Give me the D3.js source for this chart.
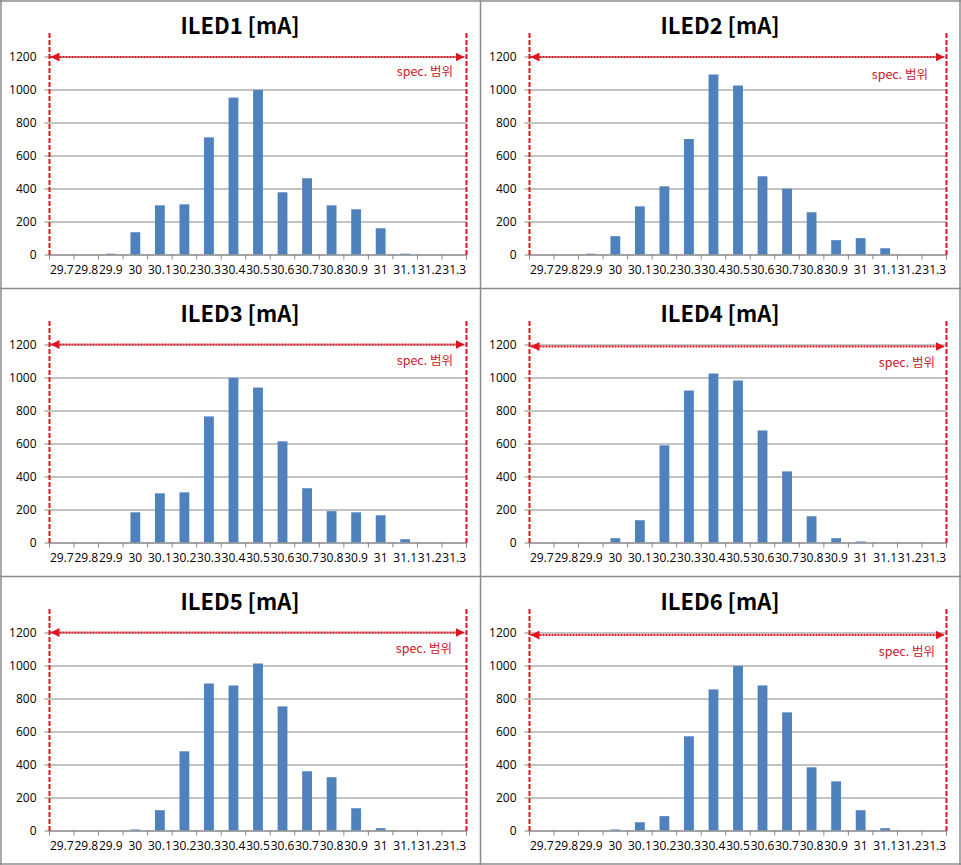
<!DOCTYPE html>
<html>
<head>
<meta charset="utf-8">
<script src="https://cdn.jsdelivr.net/npm/d3@7"></script>
<style>
  html, body { margin: 0; padding: 0; background: #ffffff; }
  svg { display: block; }
</style>
</head>
<body>
<div id="chart"></div>
<script>
// ---- data ----
const categories = ["29.7","29.8","29.9","30","30.1","30.2","30.3","30.4","30.5","30.6","30.7","30.8","30.9","31","31.1","31.2","31.3"];
const yTickValues = [0, 200, 400, 600, 800, 1000, 1200];
const titles = ["ILED1 [mA]", "ILED2 [mA]", "ILED3 [mA]", "ILED4 [mA]", "ILED5 [mA]", "ILED6 [mA]"];
const specLabel = "spec. 범위";

const iled1 = [0, 0, 5, 135, 298, 304, 710, 951, 998, 377, 462, 298, 274, 159, 5, 0, 0];
const iled2 = [0, 0, 5, 111, 292, 413, 700, 1091, 1024, 474, 399, 256, 87, 99, 38, 0, 0];
const iled3 = [0, 0, 0, 183, 298, 304, 764, 998, 939, 613, 329, 190, 183, 165, 20, 0, 0];
const iled4 = [0, 0, 0, 26, 135, 589, 921, 1024, 982, 679, 431, 159, 26, 6, 0, 0, 0];
const iled5 = [0, 0, 0, 6, 123, 480, 891, 879, 1012, 752, 359, 323, 135, 14, 0, 0, 0];
const iled6 = [0, 0, 0, 6, 50, 87, 571, 855, 998, 879, 716, 383, 298, 123, 14, 0, 0];
const seriesList = [iled1, iled2, iled3, iled4, iled5, iled6];

// ---- layout / style ----
const W = 961, H = 865;
const panelW = 480, panelH = 288;
const plotLeft = 49.5, plotRight = 466.5, plotBottom = 254.5, plotTop = 56.5;
const arrowOffsets = [0.5, 0.5, 0, 2, 0, 2.5];     // vertical nudge of spec arrow per panel
const specTextPos = [[453, 76], [448, 79], [453, 77], [455, 79], [452, 77], [455, 80]];
const barColor = "#4f81bd";
const gridColor = "#868686";
const red = "#e2141f";
const specTextColor = "#c8202a";
const titleFont = "'Noto Sans CJK KR', 'Liberation Sans', sans-serif";
const tickFont = "'Open Sans', 'Liberation Sans', sans-serif";

const svg = d3.select("#chart").append("svg")
  .attr("width", W).attr("height", H)
  .attr("viewBox", `0 0 ${W} ${H}`);

svg.append("rect").attr("width", W).attr("height", H).attr("fill", "#fff");

const defs = svg.append("defs");
["start", "end"].forEach(kind => {
  defs.append("marker")
    .attr("id", "arrow-" + kind)
    .attr("viewBox", "0 0 10 10")
    .attr("refX", kind === "end" ? 10 : 0)
    .attr("refY", 5)
    .attr("markerUnits", "userSpaceOnUse")
    .attr("markerWidth", 9)
    .attr("markerHeight", 9)
    .attr("orient", "auto")
    .append("path")
    .attr("d", kind === "end" ? "M0,0 L10,5 L0,10 Z" : "M10,0 L0,5 L10,10 Z")
    .attr("fill", red);
});

const x = d3.scaleBand().domain(categories).range([plotLeft, plotRight]).padding(0);
const y = d3.scaleLinear().domain([0, 1200]).range([plotBottom, plotTop]);
const barW = x.bandwidth() * 0.4;

seriesList.forEach((vals, i) => {
  const col = i % 2, row = Math.floor(i / 2);
  const g = svg.append("g").attr("transform", `translate(${col * panelW},${row * panelH})`);

  // title
  g.append("text")
    .attr("x", 240).attr("y", 34)
    .attr("text-anchor", "middle")
    .attr("font-family", titleFont)
    .attr("font-weight", "bold")
    .attr("font-size", 22)
    .attr("fill", "#000")
    .text(titles[i]);

  // gridlines (y axis)
  const yAxis = d3.axisLeft(y).tickValues(yTickValues)
    .tickSize(-(plotRight - plotLeft)).tickPadding(13).tickFormat(d3.format("d"));
  const ya = g.append("g").attr("transform", `translate(${plotLeft},0)`).call(yAxis);
  ya.select(".domain").remove();
  ya.selectAll(".tick line").attr("stroke", gridColor).attr("stroke-width", 1)
    .attr("x1", -5).attr("x2", plotRight - plotLeft);
  ya.selectAll(".tick text")
    .attr("font-family", tickFont).attr("font-size", 12).attr("fill", "#000");

  // bars
  g.append("g").selectAll("rect")
    .data(vals.map((v, k) => ({ c: categories[k], v })))
    .join("rect")
    .attr("x", d => x(d.c) + (x.bandwidth() - barW) / 2)
    .attr("width", barW)
    .attr("y", d => y(d.v))
    .attr("height", d => y(0) - y(d.v))
    .attr("fill", barColor);

  // x axis
  const xa = g.append("g").attr("transform", `translate(0,${plotBottom})`)
    .call(d3.axisBottom(x).tickSize(0).tickPadding(11));
  xa.select(".domain").attr("stroke", gridColor);
  xa.selectAll(".tick text")
    .attr("font-family", tickFont).attr("font-size", 12).attr("fill", "#000");
  // category boundary tick marks
  const bounds = categories.map(c => x(c)).concat([plotRight]);
  xa.append("g").selectAll("line").data(bounds).join("line")
    .attr("x1", d => d).attr("x2", d => d)
    .attr("y1", 0).attr("y2", 5)
    .attr("stroke", gridColor);

  // spec limit vertical dashed lines
  [plotLeft, plotRight].forEach(px => {
    g.append("line")
      .attr("x1", px).attr("x2", px)
      .attr("y1", 33).attr("y2", 257)
      .attr("stroke", red).attr("stroke-width", 2)
      .attr("stroke-dasharray", "5,2");
  });

  // spec arrow
  const ay = y(1200) + arrowOffsets[i];
  g.append("line")
    .attr("x1", plotLeft + 1).attr("x2", plotRight - 2)
    .attr("y1", ay).attr("y2", ay)
    .attr("stroke", red).attr("stroke-width", 2)
    .attr("stroke-dasharray", "2,1")
    .attr("marker-start", "url(#arrow-start)")
    .attr("marker-end", "url(#arrow-end)");

  g.append("text")
    .attr("x", specTextPos[i][0]).attr("y", specTextPos[i][1])
    .attr("text-anchor", "end")
    .attr("font-family", titleFont)
    .attr("font-size", 12.5)
    .attr("fill", specTextColor)
    .text(specLabel);
});

// panel borders
const borderColor = "#8c8c8c";
[1, 480.5, 960].forEach(bx => {
  svg.append("line").attr("x1", bx).attr("x2", bx).attr("y1", 0).attr("y2", 865)
    .attr("stroke", borderColor).attr("stroke-width", 1.5);
});
[1, 288.5, 576.5, 864].forEach(by => {
  svg.append("line").attr("x1", 0).attr("x2", 961).attr("y1", by).attr("y2", by)
    .attr("stroke", borderColor).attr("stroke-width", 1.5);
});
</script>
</body>
</html>
